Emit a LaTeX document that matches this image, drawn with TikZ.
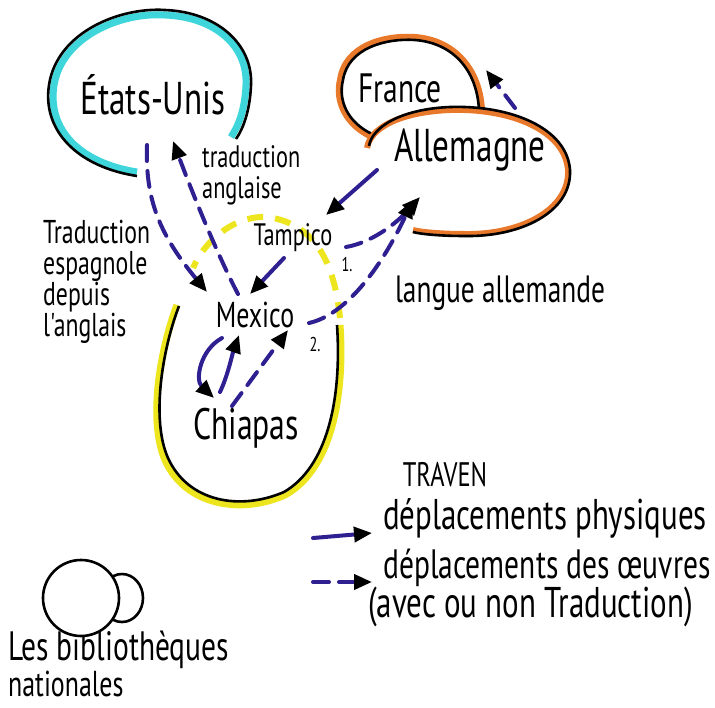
\documentclass[tikz,border=0pt]{standalone}
\usepackage{fontspec}
\newfontfamily\hand[FakeStretch=0.72]{PT Sans}
\usetikzlibrary{arrows.meta}
\definecolor{navy}{HTML}{2E2090}
\definecolor{cyanring}{HTML}{3ED6DA}
\definecolor{orangering}{HTML}{E8782A}
\definecolor{yellowring}{HTML}{EDE61E}
\tikzset{
  txt/.style={inner sep=0pt, align=left},
  phys/.style={draw=navy, line width=4pt, line cap=round,
     -{Triangle[length=18pt,width=15pt,color=black]}},
  works/.style={phys, dash pattern=on 16pt off 10pt},
  blackring/.style={draw=black, line width=2.6pt},
}
\newcommand{\fs}[1]{\hand\fontsize{#1}{#1}\selectfont}
\begin{document}
\begin{tikzpicture}[x=1pt,y=-1pt]
\useasboundingbox (0,0) rectangle (715,707);
\fill[white] (0,0) rectangle (715,707);

% Etats-Unis ring
\draw[cyanring, line width=7pt] (137,172) .. controls (80,163) and (47,130) .. (54,85)
   .. controls (62,37) and (120,12) .. (165,15) .. controls (214,17) and (248,45) .. (246,85)
   .. controls (245,110) and (238,127) .. (231,137);
\draw[blackring] (137,176) .. controls (78,167) and (42,131) .. (49,85)
   .. controls (57,32) and (120,7) .. (165,10) .. controls (217,12) and (253,44) .. (251,85)
   .. controls (250,111) and (243,129) .. (236,139);

% France ring
\draw[orangering, line width=6pt] (372,137) .. controls (345,125) and (335,100) .. (340,80)
   .. controls (345,45) and (385,35) .. (415,37) .. controls (455,40) and (480,70) .. (482,110);
\draw[blackring] (372,134) .. controls (347,122) and (338,100) .. (343,80)
   .. controls (348,48) and (386,38) .. (415,40) .. controls (453,43) and (477,70) .. (479,110);

% Allemagne ring
\draw[orangering, line width=6pt] (367,148) .. controls (370,128) and (400,112) .. (450,110)
   .. controls (510,108) and (565,130) .. (568,170) .. controls (570,210) and (520,235) .. (465,234)
   .. controls (440,234) and (420,232) .. (413,230);
\draw[blackring] (369,146) .. controls (372,127) and (401,109) .. (450,107)
   .. controls (511,105) and (567,128) .. (570,170) .. controls (572,212) and (521,237) .. (465,236)
   .. controls (440,236) and (420,234) .. (413,232);

% Mexique ring
\draw[yellowring, line width=7pt] (177,305) .. controls (160,350) and (148,420) .. (165,460)
   .. controls (185,505) and (240,515) .. (285,495) .. controls (330,470) and (345,400) .. (340,325);
\draw[blackring] (179,306) .. controls (162,350) and (151,420) .. (168,458)
   .. controls (188,502) and (240,511) .. (284,492) .. controls (327,467) and (342,400) .. (337,325);
\draw[yellowring, line width=6pt, dash pattern=on 16pt off 12pt] (340,318) .. controls (335,270) and (320,225) .. (268,217)
   .. controls (235,215) and (205,240) .. (193,268);

% nodes
\node[txt, font=\fs{46}] (us) at (153,95) {États-Unis};
\node[txt, font=\fs{41}] (fr) at (400,88) {France};
\node[txt, font=\fs{46}] (de) at (470,150) {Allemagne};
\node[txt, font=\fs{31}] (tam) at (293,238) {Tampico};
\node[txt, font=\fs{36}] (mex) at (255,315) {Mexico};
\node[txt, font=\fs{44}] (chi) at (246,428) {Chiapas};
\node[txt, font=\fs{20}] (n1) at (347,264) {1.};
\node[txt, font=\fs{20}] (n2) at (315,344) {2.};
\node[txt, anchor=north west, font=\hand\fontsize{31}{31}\selectfont] (tang) at (202,145) {traduction\\anglaise};
\node[txt, anchor=north west, font=\hand\fontsize{33}{31}\selectfont] (tesp) at (43,220) {Traduction\\espagnole\\depuis\\l'anglais};
\node[txt, font=\fs{38}] (lang) at (500,293) {langue allemande};
\node[txt, font=\fs{34}] (trav) at (445,475) {TRAVEN};
\node[txt, anchor=west, font=\fs{43}] (lphys) at (383,518) {déplacements physiques};
\node[txt, anchor=west, font=\fs{41}] (lwork) at (383,568) {déplacements des œuvres};
\node[txt, anchor=west, font=\fs{43}] (lwork2) at (368,607) {(avec ou non Traduction)};
\node[txt, anchor=west, font=\fs{41}] (bib1) at (8,650) {Les bibliothèques};
\node[txt, anchor=west, font=\fs{36}] (bib2) at (8,684) {nationales};

% library blobs
\draw[blackring, fill=white] (122,598) ellipse [x radius=21, y radius=24];
\draw[blackring, fill=white] (81,598) ellipse [x radius=38, y radius=38];

% coordinates
\coordinate (usA) at (147,145);
\coordinate (mexA) at (207,292);
\coordinate (mexB) at (238,294);
\coordinate (usB) at (173,141);
\coordinate (deA) at (377,170);
\coordinate (tamA) at (326,215);
\coordinate (tamB) at (284,258);
\coordinate (mexC) at (250,294);
\coordinate (tamC) at (346,247);
\coordinate (deB) at (420,197);
\coordinate (mexD) at (309,323);
\coordinate (deC) at (413,200);
\coordinate (mexE) at (222,338);
\coordinate (chiA) at (214,398);
\coordinate (chiB) at (220,392);
\coordinate (mexF) at (239,335);
\coordinate (chiC) at (232,406);
\coordinate (mexG) at (288,330);
\coordinate (deD) at (515,108);
\coordinate (frA) at (486,70);
\coordinate (lgA) at (313,538);
\coordinate (lgB) at (372,533);
\coordinate (lgC) at (313,582);
\coordinate (lgD) at (372,582);

% connectors
\draw[works] (usA) .. controls (145,200) and (160,235) .. (mexA);
\draw[works] (mexB) .. controls (220,260) and (195,200) .. (usB);
\draw[phys] (deA) -- (tamA);
\draw[phys] (tamB) -- (mexC);
\draw[works] (tamC) .. controls (370,243) and (395,225) .. (deB);
\draw[works] (mexD) .. controls (345,315) and (380,270) .. (deC);
\draw[phys] (mexE) .. controls (200,350) and (195,380) .. (chiA);
\draw[phys] (chiB) .. controls (228,375) and (232,355) .. (mexF);
\draw[works] (chiC) -- (mexG);
\draw[works] (deD) -- (frA);
\draw[phys] (lgA) -- (lgB);
\draw[works] (lgC) -- (lgD);
\end{tikzpicture}
\end{document}
